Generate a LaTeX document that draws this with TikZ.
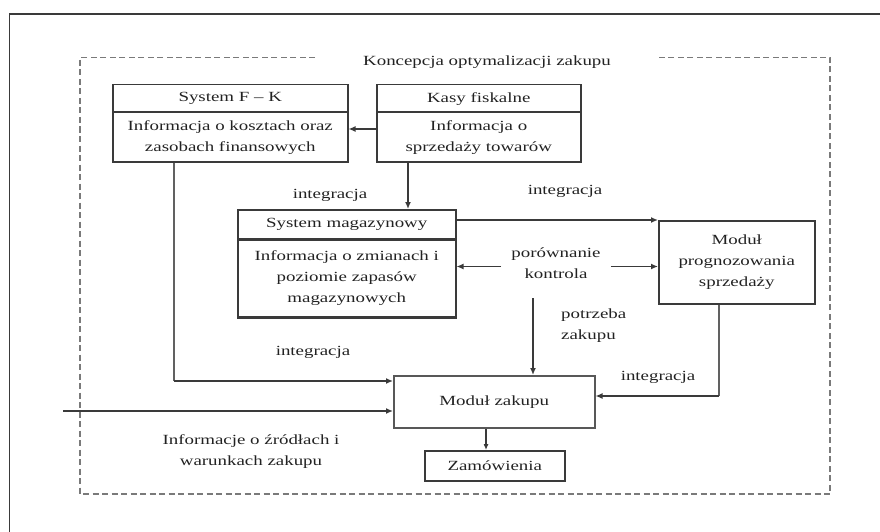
\documentclass[tikz,border=0pt]{standalone}
\usepackage{fontspec}
\setmainfont[FakeStretch=1.35]{Liberation Serif}
\usetikzlibrary{arrows.meta}
\definecolor{ln}{HTML}{3A3A3A}
\definecolor{tx}{HTML}{222222}
\definecolor{fr}{HTML}{7A7A7A}
\begin{document}
\begin{tikzpicture}[x=1pt,y=-1pt,
  every node/.style={font=\fontsize{14}{21}\selectfont, text=tx},
  boxnode/.style={draw=ln, line width=1.5pt, inner sep=0pt, align=center, anchor=north west},
  sepline/.style={draw=ln, line width=2.6pt},
  arr/.style={draw=ln, line width=1.8pt, -{Latex[length=7pt,width=6pt]}},
  thinarr/.style={draw=ln, line width=1.1pt, -{Latex[length=6pt,width=5pt]}},
  thinline/.style={draw=ln!80, line width=1.1pt},
  framedash/.style={draw=fr, line width=1.6pt, dash pattern=on 6pt off 3.5pt},
  lbl/.style={inner sep=0pt, align=center}]
\useasboundingbox (0,0) rectangle (880,532);
% outer image border
\draw[draw=ln, line width=1.2pt] (9.5,532) -- (9.5,14) -- (880,14);
% dashed frame
\draw[framedash] (315,57.5) -- (80,57.5) -- (80,494) -- (830,494) -- (830,57.5) -- (658,57.5);
\node[lbl] (title) at (487,62) {Koncepcja optymalizacji zakupu};

% System F-K
\node[boxnode, minimum width=235pt, minimum height=28pt] (fkh) at (112,84) {System F – K};
\node[boxnode, minimum width=235pt, minimum height=49pt] (fkb) at (112,112) {Informacja o kosztach oraz\\zasobach finansowych};
\draw[sepline] (fkb.north west) -- (fkb.north east);

% Kasy fiskalne
\node[boxnode, minimum width=204pt, minimum height=28pt] (kh) at (376,84) {Kasy fiskalne};
\node[boxnode, minimum width=204pt, minimum height=49pt] (kb) at (376,112) {Informacja o\\sprzedaży towarów};
\draw[sepline] (kb.north west) -- (kb.north east);

% System magazynowy
\node[boxnode, minimum width=218pt, minimum height=30pt] (mh) at (237,209) {System magazynowy};
\node[boxnode, minimum width=218pt, minimum height=77pt] (mb) at (237,239) {Informacja o zmianach i\\poziomie zapasów\\magazynowych};
\draw[draw=ln, line width=1.8pt] (mb.north west) -- (mb.north east);
\draw[draw=ln, line width=3.8pt] (mb.south west) -- (mb.south east);

% Modul prognozowania
\node[boxnode, minimum width=156pt, minimum height=83pt] (pr) at (658,220) {Moduł\\prognozowania\\sprzedaży};

% Modul zakupu
\node[boxnode, draw=ln!85, minimum width=201pt, minimum height=52pt] (mz) at (393,375) {Moduł zakupu};

% Zamowienia
\node[boxnode, minimum width=140pt, minimum height=30pt] (zam) at (424,450) {Zamówienia};

% labels
\node[lbl] (i1) at (330,195) {integracja};
\node[lbl] (i2) at (565,191) {integracja};
\node[lbl] (i3) at (313,352) {integracja};
\node[lbl] (i4) at (658,377) {integracja};
\node[lbl, inner xsep=10pt] (por) at (556,263) {porównanie\\kontrola};
\node[lbl, align=left, anchor=west] (pot) at (561,326) {potrzeba\\zakupu};
\node[lbl] (inf) at (251,452) {Informacje o źródłach i\\warunkach zakupu};

% helper coordinates
\coordinate (r129) at (0,129);
\coordinate (c408) at (408,0);
\coordinate (r220) at (0,220);
\coordinate (r267) at (0,266.5);
\coordinate (pz0) at (533,298);
\coordinate (c174) at (174,0);
\coordinate (r381) at (0,381);
\coordinate (inp) at (63,411);
\coordinate (c719) at (719,0);
\coordinate (r396) at (0,396);
\coordinate (c486) at (486,0);

% connectors
\draw[arr] (kb.west |- r129) -- (fkb.east |- r129);
\draw[arr] (kb.south -| c408) -- (mh.north -| c408);
\draw[arr] (mh.east |- r220) -- (pr.north west);
\draw[arr] (por.west |- r267) -- (mb.east |- r267);
\draw[arr] (por.east |- r267) -- (pr.west |- r267);
\draw[arr] (pz0) -- (mz.north -| pz0);
\draw[thinline] (fkb.south -| c174) -- (c174 |- r381);
\draw[arr] (c174 |- r381) -- (mz.west |- r381);
\draw[arr] (inp) -- (mz.west |- inp);
\draw[thinline] (pr.south -| c719) -- (c719 |- r396);
\draw[arr] (c719 |- r396) -- (mz.east |- r396);
\draw[thinarr] (mz.south -| c486) -- (zam.north -| c486);
\end{tikzpicture}
\end{document}
